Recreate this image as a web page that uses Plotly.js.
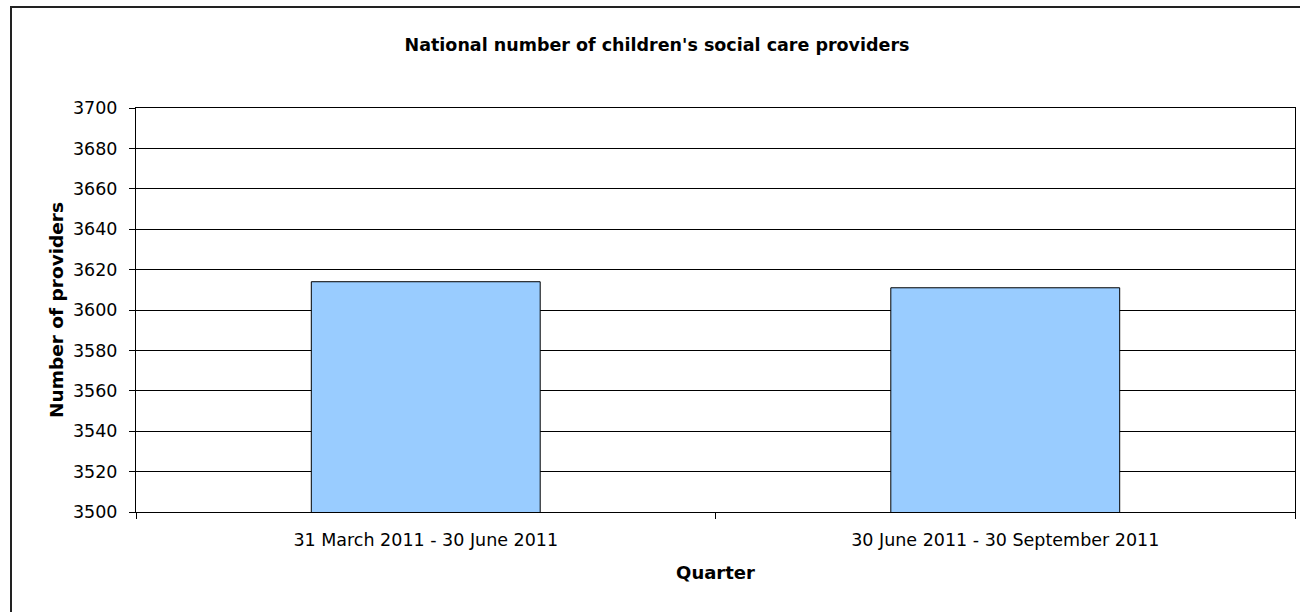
<!DOCTYPE html>
<html>
<head>
<meta charset="utf-8">
<script src="https://cdn.plot.ly/plotly-3.0.1.min.js"></script>
<style>
html,body{margin:0;padding:0;background:#fff;}
#chart{width:1300px;height:612px;}
</style>
</head>
<body>
<div id="chart"></div>
<script>
var categories = ["31 March 2011 - 30 June 2011", "30 June 2011 - 30 September 2011"];
var providers = [3614, 3611];
var yTicks = [3500, 3520, 3540, 3560, 3580, 3600, 3620, 3640, 3660, 3680, 3700];

var fam = "'DejaVu Sans', Verdana, sans-serif";

var trace = {
  type: "bar",
  x: categories,
  y: providers,
  marker: {color: "#99CCFF", line: {color: "#000000", width: 1}},
  hoverinfo: "x+y"
};

var plotW = 1300 - 136 - 5;
var plotH = 612 - 108 - 100;

var layout = {
  width: 1300,
  height: 612,
  margin: {l: 136, r: 5, t: 108, b: 100, pad: 0},
  paper_bgcolor: "#ffffff",
  plot_bgcolor: "#ffffff",
  showlegend: false,
  bargap: 0.605,
  font: {family: fam, size: 17, color: "#000"},
  title: {
    text: "<b>National number of children's social care providers</b>",
    font: {family: fam, size: 17.5, color: "#000"},
    x: 657 / 1300, xanchor: "center",
    y: 1 - 45 / 612, yanchor: "middle"
  },
  xaxis: {
    type: "category",
    showline: true, linecolor: "#000", linewidth: 1, mirror: true,
    ticks: "outside", tickson: "boundaries", ticklen: 6, tickcolor: "#000",
    ticklabelstandoff: 12,
    showgrid: false, zeroline: false,
    tickfont: {family: fam, size: 17.5, color: "#000"},
    title: {text: "<b>Quarter</b>", font: {family: fam, size: 18, color: "#000"}, standoff: 17}
  },
  yaxis: {
    range: [3500, 3700],
    tickvals: yTicks,
    ticktext: yTicks.map(String),
    showline: true, linecolor: "#000", linewidth: 1, mirror: true,
    ticks: "outside", ticklen: 6, tickcolor: "#000",
    ticklabelstandoff: 8,
    showgrid: true, gridcolor: "#000", gridwidth: 1,
    zeroline: false,
    tickfont: {family: fam, size: 17.5, color: "#000"},
    title: {text: "<b>Number of providers</b>", font: {family: fam, size: 18.5, color: "#000"}, standoff: 4}
  },
  shapes: [{
    type: "rect", xref: "paper", yref: "paper",
    x0: (11 - 136) / plotW, x1: 1.05,
    y0: -1, y1: 1 + (108 - 7) / plotH,
    line: {color: "#222", width: 2},
    fillcolor: "rgba(0,0,0,0)",
    layer: "above"
  }]
};

Plotly.newPlot("chart", [trace], layout, {displayModeBar: false, staticPlot: true});
</script>
</body>
</html>
